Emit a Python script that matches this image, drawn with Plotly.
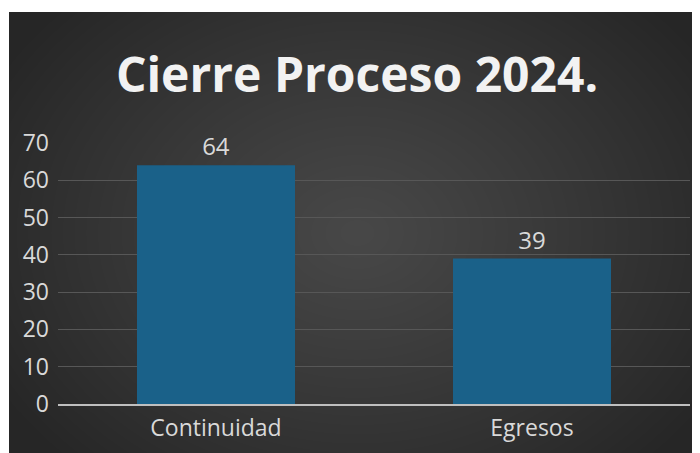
import base64, zlib, struct
import numpy as np
import plotly.graph_objects as go

categories = ["Continuidad", "Egresos"]
values = [64, 39]
y_ticks = [0, 10, 20, 30, 40, 50, 60, 70]
title_text = "Cierre Proceso 2024."

# page has an 8px body margin; figure coordinates are page coordinates - 8
W, H = 692, 445
ML, MR, MT, MB = 50, 10, 135, 47
PW, PH = W - ML - MR, H - MT - MB

# radial gradient background panel image
pw, ph = 700, 450
yy, xx = np.mgrid[0:ph, 0:pw]
cx, cy = 348, 222
d = np.sqrt(((xx - cx) / 420.0) ** 2 + ((yy - cy) / 330.0) ** 2)
d = np.clip(d, 0, 1)
inner, outer = 0x48, 0x26
g = (inner + (outer - inner) * d ** 1.1).astype(np.uint8)
rgb = np.stack([g, g, g], axis=-1)
raw = b"".join(b"\x00" + rgb[r].tobytes() for r in range(ph))
def chunk(t, data):
    c = struct.pack(">I", len(data)) + t + data
    return c + struct.pack(">I", zlib.crc32(t + data) & 0xffffffff)
png = b"\x89PNG\r\n\x1a\n" + chunk(b"IHDR", struct.pack(">IIBBBBB", pw, ph, 8, 2, 0, 0, 0)) \
    + chunk(b"IDAT", zlib.compress(raw, 9)) + chunk(b"IEND", b"")
uri = "data:image/png;base64," + base64.b64encode(png).decode()

def px_to_paper_x(px):
    return (px - ML) / PW
def px_to_paper_y(py):
    return (H - MB - py) / PH

fig = go.Figure()
fig.add_trace(go.Bar(
    x=categories, y=values,
    marker=dict(color="#1a6189", line=dict(width=0)),
    text=[str(v) for v in values], textposition="outside",
    textfont=dict(family="Open Sans", size=24, color="#d9d9d9"),
    cliponaxis=False,
))

fig.add_layout_image(dict(
    source=uri, xref="paper", yref="paper",
    x=px_to_paper_x(1), y=px_to_paper_y(3),
    sizex=px_to_paper_x(1 + pw) - px_to_paper_x(1),
    sizey=px_to_paper_y(3) - px_to_paper_y(3 + ph),
    sizing="stretch", xanchor="left", yanchor="top", layer="below",
))

fig.update_layout(
    width=W, height=H,
    margin=dict(l=ML, r=MR, t=MT, b=MB, pad=0),
    paper_bgcolor="white", plot_bgcolor="rgba(0,0,0,0)",
    bargap=0.5, showlegend=False,
    title=dict(text="<b>" + title_text + "</b>", x=349 / W, xanchor="center",
               y=1 - 67 / H, yanchor="middle",
               font=dict(family="Open Sans", size=48, color="#f2f2f2")),
    font=dict(family="Open Sans", color="#d9d9d9"),
)
fig.update_yaxes(range=[0, 70], tickvals=y_ticks, showgrid=True, gridcolor="#575757",
                 gridwidth=1, zeroline=False, showline=False, ticks="",
                 tickfont=dict(family="Open Sans", size=23, color="#d9d9d9"),
                 ticklabelstandoff=8)
fig.update_xaxes(showline=True, linecolor="#bfbfbf", linewidth=2, ticks="",
                 tickfont=dict(family="Open Sans", size=23, color="#d9d9d9"),
                 ticklabelstandoff=2)

fig.write_html("out.html")
